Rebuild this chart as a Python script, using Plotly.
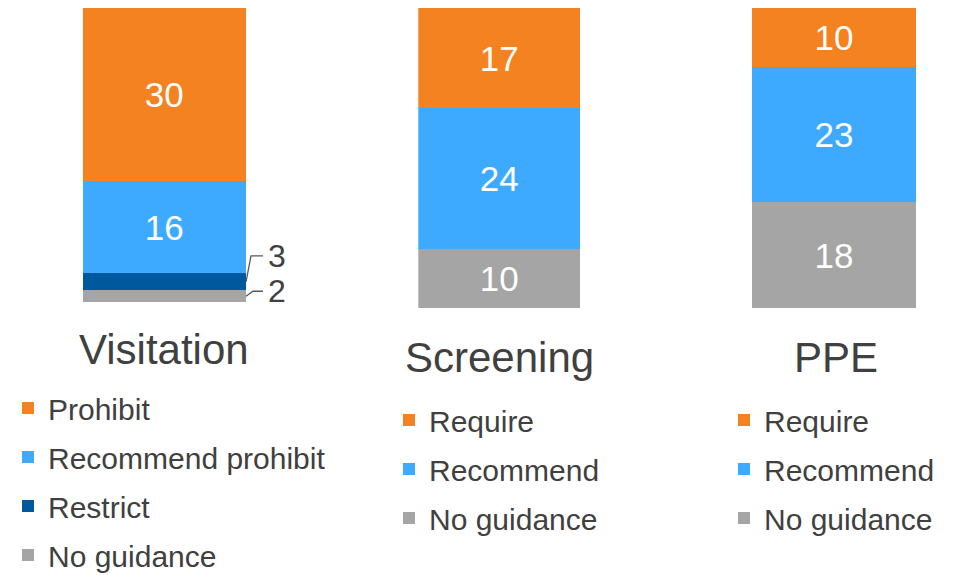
import plotly.graph_objects as go
import numpy as np

# ---- data ----
categories = ["Visitation", "Screening", "PPE"]

visitation_labels = ["No guidance", "Restrict", "Recommend prohibit", "Prohibit"]
visitation_values = [2, 3, 16, 30]

screening_labels = ["No guidance", "Recommend", "Require"]
screening_values = [10, 24, 17]

ppe_labels = ["No guidance", "Recommend", "Require"]
ppe_values = [18, 23, 10]

# ---- styles ----
COL = {
    "No guidance": "#A5A5A5",
    "Restrict": "#00599C",
    "Recommend prohibit": "#3DAAFF",
    "Recommend": "#3DAAFF",
    "Prohibit": "#F58220",
    "Require": "#F58220",
}
FONT = "Liberation Sans, Arial, sans-serif"
TXT = "#404040"
W, H = 956, 575

fig = go.Figure()

groups = [
    (categories[0], visitation_labels, visitation_values, "x", "y", "legend"),
    (categories[1], screening_labels, screening_values, "x2", "y2", "legend2"),
    (categories[2], ppe_labels, ppe_values, "x3", "y3", "legend3"),
]

small_threshold = 5
outside = []  # (value, center)
for cat, labels, values, xa, ya, lg in groups:
    cum = np.cumsum([0] + values)
    n = len(values)
    for i, (lab, v) in enumerate(zip(labels, values)):
        inside = v >= small_threshold
        fig.add_trace(go.Bar(
            x=[cat], y=[v], name=lab, xaxis=xa, yaxis=ya, legend=lg,
            legendgroup=f"{cat}-{lab}", legendrank=n - i,
            marker=dict(color=COL[lab], line=dict(width=0)),
            width=1.0,
            text=[str(v)] if inside else [""],
            textposition="inside", insidetextanchor="middle",
            textfont=dict(color="white", size=35, family=FONT),
            hoverinfo="name+y",
        ))
        if not inside and cat == categories[0]:
            outside.append((v, (cum[i] + cum[i + 1]) / 2))

# leader lines + labels for the thin Visitation segments (offsets in px)
BAR_L, BAR_R = 82.7, 246.0
EXT_R = 330.0
px_per_x = BAR_R - BAR_L
px_per_y = 294.0 / sum(visitation_values)
leader_specs = {3: (5, 26, 12), 2: (7, 5, 10)}  # value -> (elbow dx, rise px, horiz px)
for v, c in outside:
    dx, rise, hz = leader_specs.get(v, (6, 10, 12))
    x0 = 0.5
    x1 = x0 + dx / px_per_x
    x2 = x1 + hz / px_per_x
    y0 = c
    y1 = c + rise / px_per_y
    fig.add_trace(go.Scatter(
        x=[x0, x1, x2], y=[y0, y1, y1], xaxis="x4", yaxis="y4",
        mode="lines", line=dict(color="#595959", width=1.3),
        showlegend=False, hoverinfo="skip",
    ))
    fig.add_annotation(
        x=x2 + 3 / px_per_x, y=y1, xref="x4", yref="y4", text=str(v),
        showarrow=False, xanchor="left", yanchor="middle",
        font=dict(size=32, color=TXT, family=FONT),
    )

def dom_x(a, b):
    return [a / W, b / W]

def dom_y(top, bottom):
    return [1 - bottom / H, 1 - top / H]

ax = dict(showgrid=False, zeroline=False, showticklabels=False, showline=False, ticks="")

fig.update_layout(
    width=W, height=H,
    margin=dict(l=0, r=0, t=0, b=0, autoexpand=False),
    paper_bgcolor="white", plot_bgcolor="rgba(0,0,0,0)",
    barmode="stack", bargap=0,
    font=dict(family=FONT, color=TXT),
    showlegend=True,
    xaxis=dict(domain=dom_x(BAR_L, BAR_R), range=[-0.5, 0.5], type="category", anchor="y", **ax),
    xaxis2=dict(domain=dom_x(418.3, 580.3), range=[-0.5, 0.5], type="category", anchor="y2", **ax),
    xaxis3=dict(domain=dom_x(752, 916), range=[-0.5, 0.5], type="category", anchor="y3", **ax),
    xaxis4=dict(domain=dom_x(BAR_L, EXT_R), range=[-0.5, -0.5 + (EXT_R - BAR_L) / px_per_x],
                type="linear", anchor="y4", **ax),
    yaxis=dict(domain=dom_y(8, 302), range=[0, sum(visitation_values)], anchor="x", **ax),
    yaxis2=dict(domain=dom_y(8, 308), range=[0, sum(screening_values)], anchor="x2", **ax),
    yaxis3=dict(domain=dom_y(8, 308), range=[0, sum(ppe_values)], anchor="x3", **ax),
    yaxis4=dict(domain=dom_y(8, 302), range=[0, sum(visitation_values)], anchor="x4", **ax),
)

legend_common = dict(
    traceorder="grouped", tracegroupgap=7,
    font=dict(size=30, color=TXT, family=FONT),
    bgcolor="rgba(0,0,0,0)", itemclick=False, itemdoubleclick=False,
    xanchor="left", yanchor="top", itemwidth=30,
)
fig.update_layout(
    legend=dict(x=8 / W, y=1 - 382 / H, **legend_common),
    legend2=dict(x=389 / W, y=1 - 394 / H, **legend_common),
    legend3=dict(x=724 / W, y=1 - 394 / H, **legend_common),
)

# category titles
title_pos = [(164, 349), (499, 357), (836, 357)]
for cat, (cx, cy) in zip(categories, title_pos):
    fig.add_annotation(
        x=cx / W, y=1 - cy / H, xref="paper", yref="paper", text=cat,
        showarrow=False, xanchor="center", yanchor="middle",
        font=dict(size=42, color=TXT, family=FONT),
    )

fig.write_html("out.html")
